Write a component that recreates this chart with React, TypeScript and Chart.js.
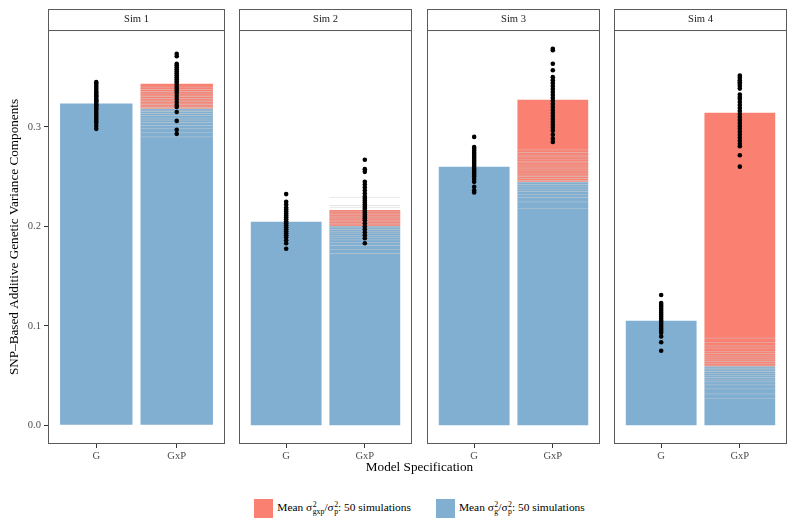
import React, { useEffect, useRef } from "react";
import { Chart, registerables } from "chart.js";
Chart.register(...registerables);

// ---------- data ----------
const simLabels = ["Sim 1", "Sim 2", "Sim 3", "Sim 4"];
const modelLabels = ["G", "GxP"];
const yTickValues = [0, 0.1, 0.2, 0.3];
const xTickValues = [1, 2];

// mean sigma_g^2/sigma_p^2 under the G model
const gModelMeanG = [0.3234, 0.2046, 0.2598, 0.105];
// mean sigma_g^2/sigma_p^2 under the GxP model
const gxpModelMeanG = [0.318, 0.2003, 0.2448, 0.0592];
// mean total (g + gxp) under the GxP model
const gxpModelMeanTotal = [0.3434, 0.2163, 0.3274, 0.3143];

// per-simulation sigma_g^2/sigma_p^2 under the GxP model (overlay bars)
const sim1GxpG = [0.3405, 0.338, 0.336, 0.3345, 0.3325, 0.331, 0.329, 0.3275, 0.3262, 0.3245, 0.323, 0.3215, 0.32, 0.319, 0.3175, 0.316, 0.314, 0.312, 0.3095, 0.3075, 0.305, 0.302, 0.299, 0.295, 0.2905];
const sim2GxpG = [0.2297, 0.2214, 0.2197, 0.2158, 0.214, 0.2126, 0.211, 0.2098, 0.2082, 0.2066, 0.205, 0.2037, 0.202, 0.2005, 0.199, 0.1972, 0.1955, 0.1937, 0.1915, 0.1895, 0.187, 0.1845, 0.1812, 0.1775, 0.1732];
const sim3GxpG = [0.2775, 0.2748, 0.2722, 0.2705, 0.2683, 0.266, 0.2645, 0.2622, 0.2601, 0.2585, 0.2563, 0.254, 0.2522, 0.2505, 0.2487, 0.2466, 0.2447, 0.2425, 0.2404, 0.238, 0.2356, 0.2327, 0.2295, 0.2252, 0.2187];
const sim4GxpG = [0.0883, 0.0838, 0.0805, 0.0782, 0.0748, 0.0725, 0.0703, 0.0684, 0.0662, 0.0646, 0.0628, 0.0611, 0.0594, 0.0578, 0.0563, 0.0546, 0.0528, 0.0507, 0.0486, 0.0463, 0.0441, 0.0412, 0.0372, 0.0322, 0.0275];
const simGxpG = [sim1GxpG, sim2GxpG, sim3GxpG, sim4GxpG];

// per-simulation estimates shown as points
const sim1PointsG = [0.345, 0.343, 0.341, 0.339, 0.337, 0.335, 0.334, 0.332, 0.331, 0.33, 0.328, 0.327, 0.326, 0.325, 0.323, 0.322, 0.321, 0.319, 0.318, 0.316, 0.314, 0.312, 0.31, 0.308, 0.306, 0.304, 0.301, 0.298];
const sim1PointsGxP = [0.3735, 0.371, 0.3635, 0.362, 0.36, 0.358, 0.356, 0.354, 0.352, 0.35, 0.348, 0.346, 0.344, 0.342, 0.34, 0.338, 0.336, 0.334, 0.331, 0.328, 0.325, 0.322, 0.32, 0.315, 0.306, 0.297, 0.293];
const sim2PointsG = [0.2324, 0.2247, 0.222, 0.219, 0.217, 0.215, 0.213, 0.211, 0.209, 0.207, 0.205, 0.203, 0.201, 0.199, 0.197, 0.195, 0.193, 0.191, 0.189, 0.186, 0.183, 0.1775];
const sim2PointsGxP = [0.267, 0.2575, 0.2548, 0.2447, 0.242, 0.239, 0.236, 0.233, 0.23, 0.228, 0.226, 0.224, 0.222, 0.22, 0.218, 0.216, 0.214, 0.212, 0.21, 0.208, 0.206, 0.203, 0.2, 0.197, 0.194, 0.191, 0.188, 0.183];
const sim3PointsG = [0.2899, 0.2798, 0.278, 0.276, 0.274, 0.272, 0.27, 0.268, 0.266, 0.264, 0.262, 0.26, 0.258, 0.256, 0.254, 0.252, 0.25, 0.2475, 0.2447, 0.2397, 0.2363, 0.2341];
const sim3PointsGxP = [0.3785, 0.377, 0.3635, 0.357, 0.35, 0.347, 0.344, 0.341, 0.338, 0.335, 0.332, 0.329, 0.326, 0.323, 0.32, 0.317, 0.314, 0.311, 0.308, 0.305, 0.302, 0.299, 0.296, 0.292, 0.288, 0.2849];
const sim4PointsG = [0.131, 0.1228, 0.121, 0.119, 0.117, 0.115, 0.113, 0.111, 0.109, 0.107, 0.105, 0.103, 0.101, 0.099, 0.097, 0.095, 0.093, 0.0893, 0.0834, 0.0749];
const sim4PointsGxP = [0.3517, 0.3495, 0.347, 0.345, 0.343, 0.341, 0.3385, 0.3325, 0.33, 0.328, 0.325, 0.322, 0.319, 0.316, 0.313, 0.31, 0.307, 0.304, 0.301, 0.298, 0.295, 0.292, 0.289, 0.286, 0.283, 0.2805, 0.2715, 0.26];
const pointsG = [sim1PointsG, sim2PointsG, sim3PointsG, sim4PointsG];
const pointsGxP = [sim1PointsGxP, sim2PointsGxP, sim3PointsGxP, sim4PointsGxP];

// ---------- layout / style ----------
const FONT = "'Liberation Serif', 'DejaVu Serif', 'Times New Roman', serif";
const BLUE = "rgb(128,175,210)";
const RED = "#FA8072";
const PANEL_LEFTS = [48, 235, 423, 610];
const PANEL_W = 181;
const Y_AXIS_W = 48;
const CANVAS_H = 470;
const STRIP_H = 21;
const Y_MIN = -0.0189;
const Y_MAX = 0.3974;

const panelFrame = {
  id: "panelFrame",
  beforeDraw(chart: any) {
    const { ctx, chartArea } = chart;
    const { left, right, top } = chartArea;
    ctx.save();
    ctx.fillStyle = "#ffffff";
    ctx.fillRect(left, top - STRIP_H, right - left, STRIP_H);
    ctx.restore();
  },
  afterDraw(chart: any) {
    const { ctx, chartArea } = chart;
    const { left, right, top, bottom } = chartArea;
    ctx.save();
    ctx.strokeStyle = "#5a5a5a";
    ctx.lineWidth = 1;
    ctx.strokeRect(left + 0.5, top + 0.5, right - left - 1, bottom - top - 1);
    ctx.strokeRect(left + 0.5, top - STRIP_H + 0.5, right - left - 1, STRIP_H);
    ctx.restore();
  },
};

function Panel({ idx }: { idx: number }) {
  const ref = useRef<HTMLCanvasElement>(null);
  const first = idx === 0;
  const width = first ? Y_AXIS_W + PANEL_W : PANEL_W;
  const left = first ? 0 : PANEL_LEFTS[idx];

  useEffect(() => {
    const overlays = simGxpG[idx].map((v) => ({
      type: "bar" as const,
      data: [{ x: 2, y: v }],
      backgroundColor: "rgba(0,0,0,0)",
      borderColor: "rgba(205,205,205,0.55)",
      borderWidth: { top: 1, left: 0, right: 0, bottom: 0 },
      borderSkipped: false,
      grouped: false,
      barPercentage: 0.9,
      categoryPercentage: 1,
      order: 1,
    }));
    const chart = new Chart(ref.current as HTMLCanvasElement, {
      type: "bar",
      data: {
        datasets: [
          {
            type: "scatter",
            data: pointsG[idx].map((v) => ({ x: 1, y: v })),
            pointRadius: 2.3,
            pointBackgroundColor: "#000",
            pointBorderWidth: 0,
            order: 0,
          } as any,
          {
            type: "scatter",
            data: pointsGxP[idx].map((v) => ({ x: 2, y: v })),
            pointRadius: 2.3,
            pointBackgroundColor: "#000",
            pointBorderWidth: 0,
            order: 0,
          } as any,
          ...overlays,
          {
            type: "bar",
            data: [{ x: 2, y: [gxpModelMeanG[idx], gxpModelMeanTotal[idx]] }],
            backgroundColor: RED,
            borderWidth: 0,
            grouped: false,
            barPercentage: 0.9,
            categoryPercentage: 1,
            order: 2,
          } as any,
          {
            type: "bar",
            data: [
              { x: 1, y: gModelMeanG[idx] },
              { x: 2, y: gxpModelMeanG[idx] },
            ],
            backgroundColor: BLUE,
            borderWidth: 0,
            grouped: false,
            barPercentage: 0.9,
            categoryPercentage: 1,
            order: 3,
          } as any,
        ],
      },
      options: {
        responsive: false,
        maintainAspectRatio: false,
        animation: false,
        layout: { padding: 0 },
        plugins: {
          legend: { display: false },
          tooltip: { enabled: false },
          title: {
            display: true,
            text: simLabels[idx],
            fullSize: false,
            color: "#1A1A1A",
            font: { family: FONT, size: 10.6, weight: "normal", lineHeight: 1.2 },
            padding: { top: 13.1, bottom: 4.2 },
          },
        },
        scales: {
          x: {
            type: "linear",
            min: 0.4,
            max: 2.6,
            offset: false,
            afterBuildTicks: (s: any) => {
              s.ticks = xTickValues.map((v) => ({ value: v }));
            },
            afterFit: (s: any) => {
              s.height = CANVAS_H - 444;
            },
            ticks: {
              color: "#4D4D4D",
              font: { family: FONT, size: 10.6 },
              padding: 2,
              maxRotation: 0,
              callback: (v: any) => modelLabels[Math.round(Number(v)) - 1],
            },
            grid: {
              display: true,
              offset: false,
              drawOnChartArea: false,
              drawTicks: true,
              tickLength: 4,
              color: "#333333",
            },
            border: { display: false },
          },
          y: {
            type: "linear",
            display: first,
            min: Y_MIN,
            max: Y_MAX,
            afterBuildTicks: (s: any) => {
              s.ticks = yTickValues.map((v) => ({ value: v }));
            },
            afterFit: (s: any) => {
              s.width = first ? Y_AXIS_W : 0;
            },
            ticks: {
              color: "#4D4D4D",
              font: { family: FONT, size: 10.6 },
              padding: 3,
              callback: (v: any) => Number(v).toFixed(1),
            },
            grid: {
              display: true,
              drawOnChartArea: false,
              drawTicks: true,
              tickLength: 4,
              color: "#333333",
            },
            border: { display: false },
            title: {
              display: true,
              text: "SNP\u2013Based Additive Genetic Variance Components",
              color: "#000",
              font: { family: FONT, size: 13.2 },
              padding: { top: 7, bottom: 0 },
            },
          },
        },
      } as any,
      plugins: [panelFrame],
    });
    return () => chart.destroy();
  }, [idx]);

  return (
    <canvas
      ref={ref}
      width={width}
      height={CANVAS_H}
      style={{ position: "absolute", left, top: 0, width, height: CANVAS_H }}
    />
  );
}

function Sigma({ sub }: { sub: string }) {
  return (
    <span style={{ whiteSpace: "nowrap" }}>
      σ
      <span
        style={{
          display: "inline-flex",
          flexDirection: "column",
          alignItems: "flex-start",
          fontSize: 7.8,
          lineHeight: "7px",
          verticalAlign: "4px",
          marginLeft: 0.5,
        }}
      >
        <span>2</span>
        <span>{sub}</span>
      </span>
    </span>
  );
}

export default function App() {
  const legendText = { fontSize: 11.4, color: "#000", whiteSpace: "nowrap" as const };
  return (
    <div
      style={{
        position: "absolute",
        left: 0,
        top: 0,
        width: 800,
        height: 527,
        background: "#fff",
        fontFamily: FONT,
        overflow: "hidden",
      }}
    >
      {simLabels.map((_, i) => (
        <Panel key={i} idx={i} />
      ))}
      <div
        style={{
          position: "absolute",
          left: 48,
          width: 743,
          top: 459,
          textAlign: "center",
          fontSize: 13.2,
          lineHeight: "16px",
          color: "#000",
        }}
      >
        Model Specification
      </div>
      <div
        style={{
          position: "absolute",
          left: 48,
          width: 743,
          top: 498,
          height: 20,
          display: "flex",
          justifyContent: "center",
          alignItems: "center",
        }}
      >
        <span style={{ width: 19, height: 19, background: RED, display: "inline-block" }} />
        <span style={{ ...legendText, marginLeft: 4 }}>
          Mean <Sigma sub="gxp" />/<Sigma sub="p" />: 50 simulations
        </span>
        <span style={{ width: 19, height: 19, background: BLUE, display: "inline-block", marginLeft: 25 }} />
        <span style={{ ...legendText, marginLeft: 4 }}>
          Mean <Sigma sub="g" />/<Sigma sub="p" />: 50 simulations
        </span>
      </div>
    </div>
  );
}
